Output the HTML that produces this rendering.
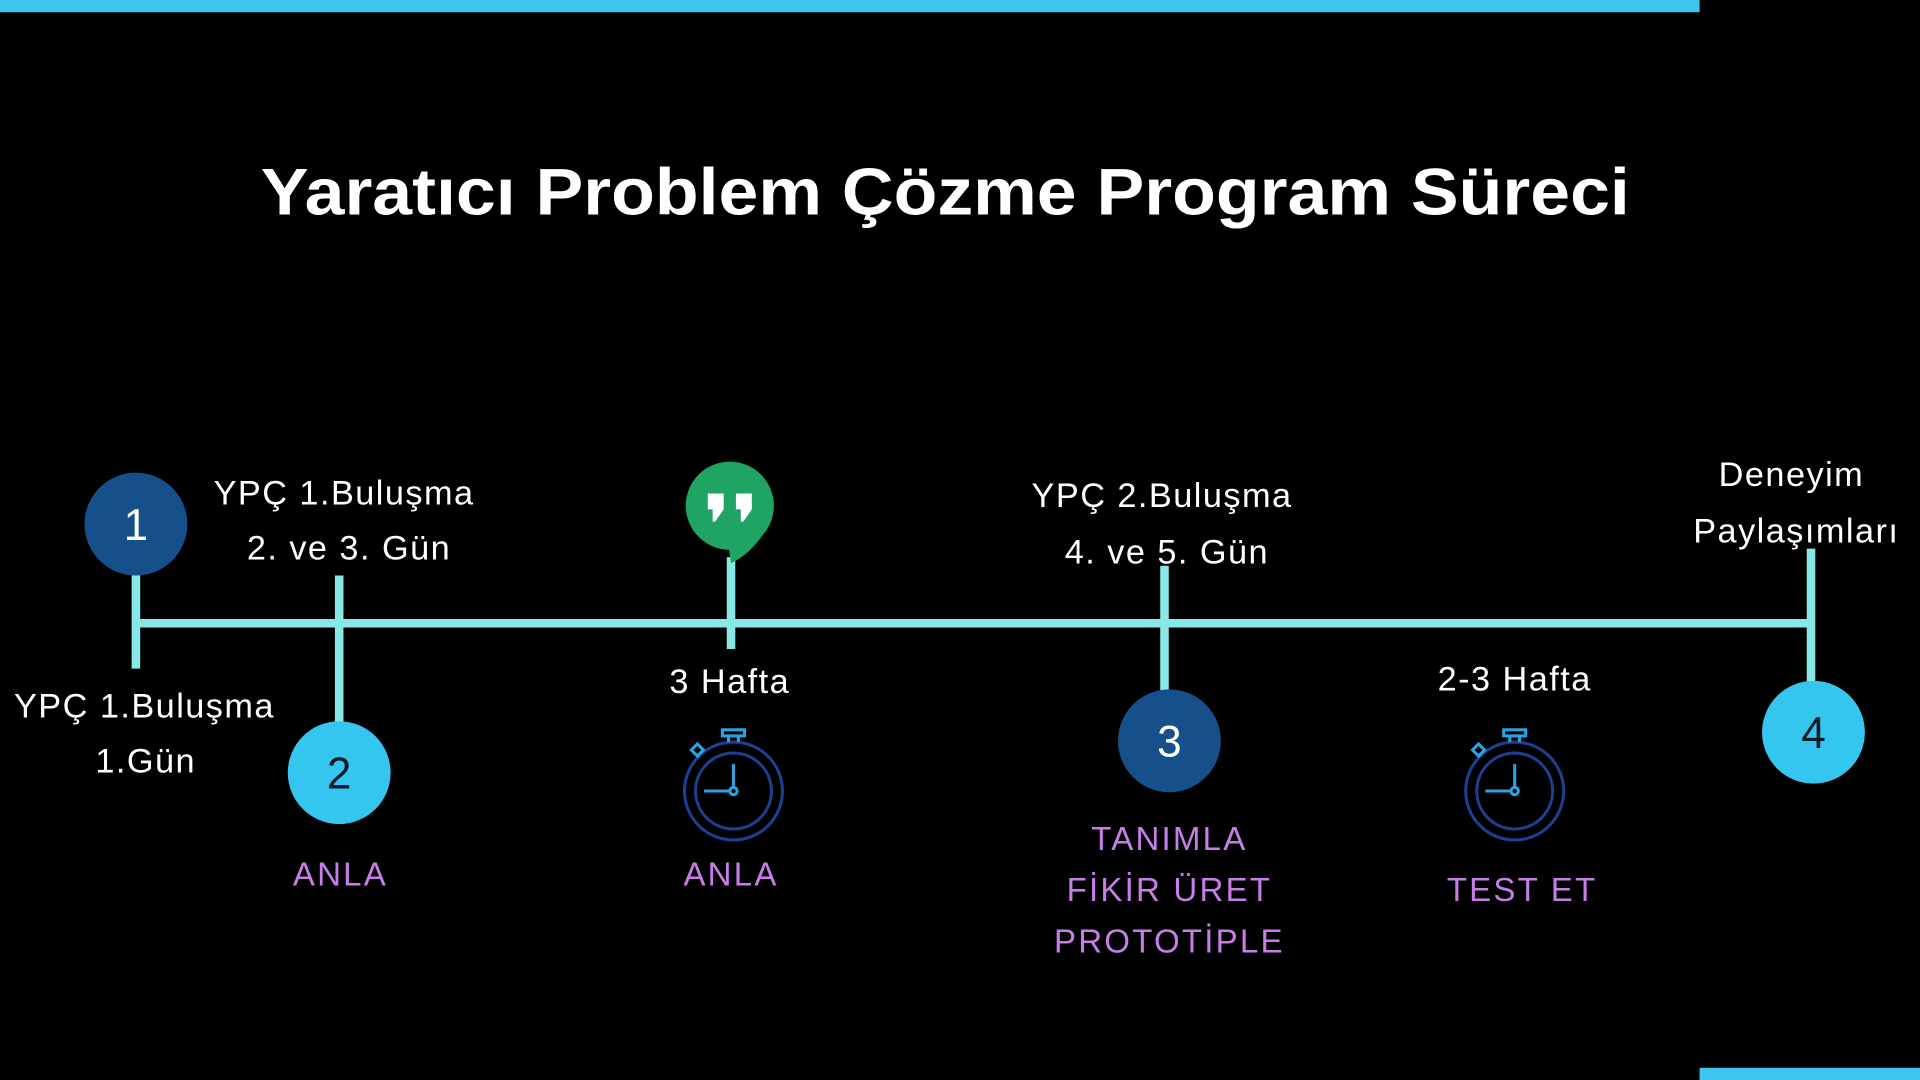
<!DOCTYPE html>
<html><head><meta charset="utf-8"><style>html,body{margin:0;padding:0;background:#000;overflow:hidden}</style></head>
<body>
<svg width="1920" height="1080" viewBox="0 0 1568 882" xmlns="http://www.w3.org/2000/svg" style="display:block">
<rect width="1568" height="882" fill="#000"/>
<rect x="0" y="0" width="1388" height="10" fill="#3ec6ef"/>
<rect x="1388" y="872" width="180" height="10" fill="#3ec6ef"/>
<text x="772" y="175" text-anchor="middle" fill="#fff" font-family="Liberation Sans, sans-serif" font-weight="bold" font-size="54" textLength="1118" lengthAdjust="spacingAndGlyphs">Yaratıcı Problem Çözme Program Süreci</text>
<g stroke="#88e8e6" stroke-width="7">
<line x1="111" y1="509" x2="1479" y2="509"/>
<line x1="111" y1="468" x2="111" y2="546"/>
<line x1="277" y1="470" x2="277" y2="590"/>
<line x1="597" y1="455" x2="597" y2="530"/>
<line x1="951" y1="462" x2="951" y2="565"/>
<line x1="1479" y1="448" x2="1479" y2="558"/>
</g>
<circle cx="111" cy="428" r="42" fill="#16508a"/>
<circle cx="277" cy="631" r="42" fill="#34c6ee"/>
<circle cx="955" cy="605" r="42" fill="#16508a"/>
<circle cx="1481" cy="598" r="42" fill="#34c6ee"/>
<g font-family="Liberation Sans, sans-serif" font-size="36" text-anchor="middle">
<text x="111" y="441" fill="#fff">1</text>
<text x="277" y="644" fill="#0b1a2a">2</text>
<text x="955" y="618" fill="#fff">3</text>
<text x="1481" y="611" fill="#0b1a2a">4</text>
</g>
<!-- quote bubble -->
<circle cx="596" cy="413" r="36" fill="#1fa463"/>
<path d="M594 440 L597 460 Q614 452 626 432 Z" fill="#1fa463"/>
<path d="M578 403 h13 v13 l-7 10 h-2 v-10 h-4 z M601 403 h13 v13 l-7 10 h-2 v-10 h-4 z" fill="#fff"/>
<!-- stopwatches -->
<g fill="none">
<g transform="translate(599,646)">
<circle r="40" stroke="#1d3f8f" stroke-width="2.5"/>
<circle r="31" stroke="#1d3f8f" stroke-width="2.5"/>
<line x1="0" y1="-22" x2="0" y2="-3" stroke="#2aa3e0" stroke-width="2.5"/>
<line x1="-3" y1="0" x2="-24" y2="0" stroke="#2aa3e0" stroke-width="2.5"/>
<circle r="3" stroke="#2aa3e0" stroke-width="2.5"/>
<rect x="-9" y="-50" width="18" height="5" stroke="#2aa3e0" stroke-width="2.5"/>
<line x1="-4" y1="-45" x2="-4" y2="-40" stroke="#2aa3e0" stroke-width="2.5"/>
<line x1="4" y1="-45" x2="4" y2="-40" stroke="#2aa3e0" stroke-width="2.5"/>
<rect x="-33" y="-37" width="7" height="7" transform="rotate(-45 -29.5 -33.5)" stroke="#2aa3e0" stroke-width="2.5"/>
</g>
<g transform="translate(1237,646)">
<circle r="40" stroke="#1d3f8f" stroke-width="2.5"/>
<circle r="31" stroke="#1d3f8f" stroke-width="2.5"/>
<line x1="0" y1="-22" x2="0" y2="-3" stroke="#2aa3e0" stroke-width="2.5"/>
<line x1="-3" y1="0" x2="-24" y2="0" stroke="#2aa3e0" stroke-width="2.5"/>
<circle r="3" stroke="#2aa3e0" stroke-width="2.5"/>
<rect x="-9" y="-50" width="18" height="5" stroke="#2aa3e0" stroke-width="2.5"/>
<line x1="-4" y1="-45" x2="-4" y2="-40" stroke="#2aa3e0" stroke-width="2.5"/>
<line x1="4" y1="-45" x2="4" y2="-40" stroke="#2aa3e0" stroke-width="2.5"/>
<rect x="-33" y="-37" width="7" height="7" transform="rotate(-45 -29.5 -33.5)" stroke="#2aa3e0" stroke-width="2.5"/>
</g>
</g>
<g font-family="Liberation Sans, sans-serif" font-size="28" fill="#fff" text-anchor="middle" letter-spacing="1.2">
<text x="281" y="412">YPÇ 1.Buluşma</text>
<text x="285" y="457">2. ve 3. Gün</text>
<text x="118" y="586">YPÇ 1.Buluşma</text>
<text x="119" y="631">1.Gün</text>
<text x="596" y="566">3 Hafta</text>
<text x="949" y="414">YPÇ 2.Buluşma</text>
<text x="953" y="460">4. ve 5. Gün</text>
<text x="1237" y="564">2-3 Hafta</text>
<text x="1463" y="397">Deneyim</text>
<text x="1467" y="443">Paylaşımları</text>
</g>
<g font-family="Liberation Sans, sans-serif" font-size="27" fill="#c77ee8" text-anchor="middle" letter-spacing="1.8">
<text x="278" y="723">ANLA</text>
<text x="597" y="723">ANLA</text>
<text x="955" y="694">TANIMLA</text>
<text x="955" y="736">FİKİR ÜRET</text>
<text x="955" y="778">PROTOTİPLE</text>
<text x="1243" y="736">TEST ET</text>
</g>
</svg>
</body></html>
